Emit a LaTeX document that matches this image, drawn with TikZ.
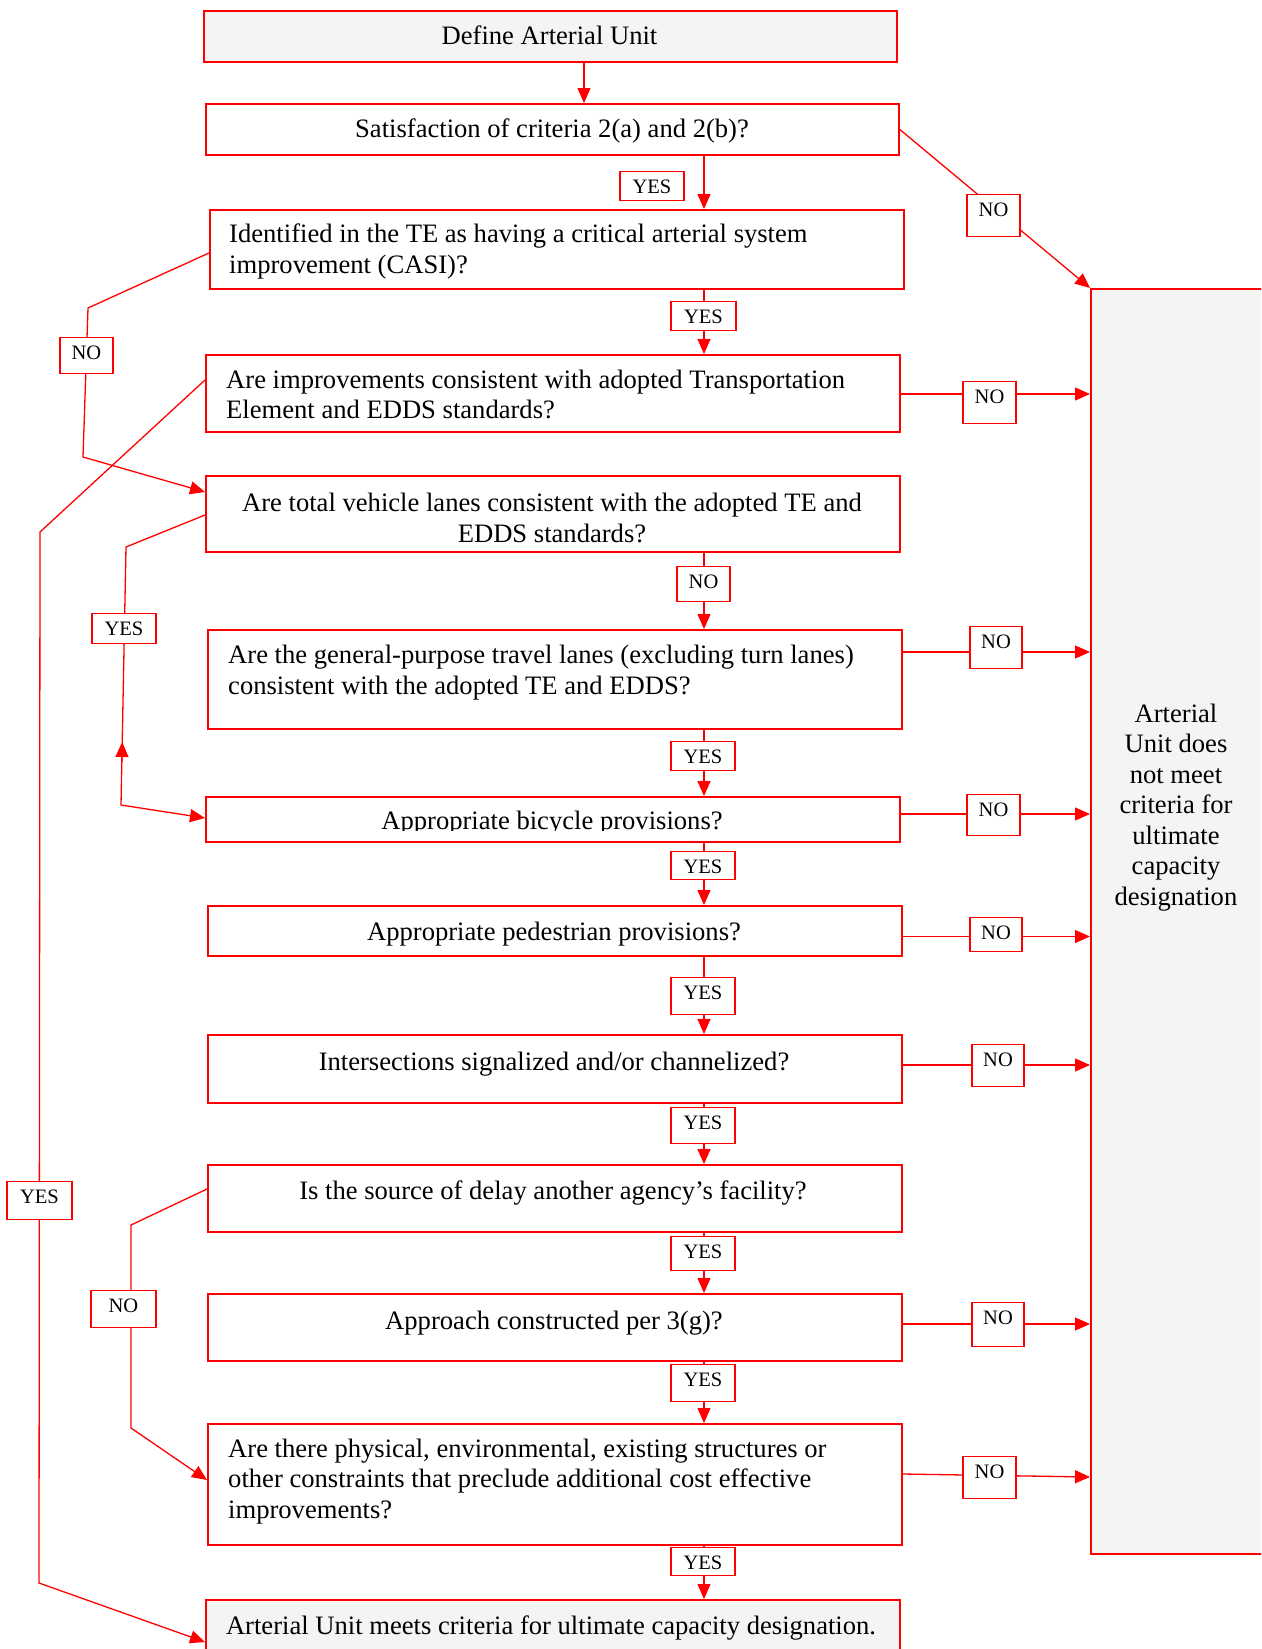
\documentclass[tikz,border=0pt]{standalone}
\usepackage{fontspec}
\setmainfont{Liberation Serif}
\usetikzlibrary{arrows.meta}
\definecolor{lr}{RGB}{255,0,0}
\definecolor{lg}{RGB}{244,244,244}
\tikzset{
  bx/.style={draw=lr, line width=1.6pt, inner sep=0pt, anchor=north west},
  gbx/.style={bx, fill=lg},
  conn/.style={draw=lr, line width=1.3pt, -{Triangle[length=15pt,width=13pt]}},
  plain/.style={draw=lr, line width=1.3pt},
  txt/.style={font=\fontsize{26.6}{31}\selectfont, inner sep=0pt, text=black},
  lab/.style={draw=lr, line width=1.4pt, fill=white, inner xsep=0pt, inner ysep=0pt,
    font=\fontsize{20.5}{24}\selectfont, text height=21.5pt, anchor=north}
}
\newcommand\lbl[6]{\node[lab, minimum width=#4pt, text depth=#5pt] (#1) at (#2,#3) {#6};}
\begin{document}
\begin{tikzpicture}[x=1pt,y=-1pt]
\useasboundingbox (0,0) rectangle (1261,1649);
\clip (0,0) rectangle (1261,1649);
\fill[white] (0,0) rectangle (1261,1649);

% boxes
\node[gbx, minimum width=693pt, minimum height=51pt] (b1) at (203,10) {};
\node[bx, minimum width=693pt, minimum height=51pt] (b2) at (205,103) {};
\node[bx, minimum width=694pt, minimum height=79pt] (b3) at (209,209) {};
\node[bx, minimum width=694pt, minimum height=77pt] (b4) at (205,354) {};
\node[bx, minimum width=694pt, minimum height=76pt] (b5) at (205,475) {};
\node[bx, minimum width=694pt, minimum height=99pt] (b6) at (207,629) {};
\node[bx, minimum width=694pt, minimum height=45pt] (b7) at (205,796) {};
\node[bx, minimum width=694pt, minimum height=50pt] (b8) at (207,905) {};
\node[bx, minimum width=694pt, minimum height=68pt] (b9) at (207,1034) {};
\node[bx, minimum width=694pt, minimum height=67pt] (b10) at (207,1164) {};
\node[bx, minimum width=694pt, minimum height=67pt] (b11) at (207,1293) {};
\node[bx, minimum width=694pt, minimum height=121pt] (b12) at (207,1423) {};
\node[gbx, minimum width=694pt, minimum height=66pt] (fin) at (205,1599) {};
\node[gbx, minimum width=190pt, minimum height=1265pt] (rb) at (1090,288) {};

% texts
\node[txt, anchor=base] (t1) at (549.5,44) {Define Arterial Unit};
\node[txt, anchor=base] (t2) at (552,137) {Satisfaction of criteria 2(a) and 2(b)?};
\node[txt, anchor=base west] (t3a) at (229,242) {Identified in the TE as having a critical arterial system};
\node[txt, anchor=base west] (t3b) at (229,273.5) {improvement (CASI)?};
\node[txt, anchor=base west] (t4a) at (226,388) {Are improvements consistent with adopted Transportation};
\node[txt, anchor=base west] (t4b) at (226,418.5) {Element and EDDS standards?};
\node[txt, anchor=base] (t5a) at (552,511) {Are total vehicle lanes consistent with the adopted TE and};
\node[txt, anchor=base] (t5b) at (552,542) {EDDS standards?};
\node[txt, anchor=base west] (t6a) at (228,663) {Are the general-purpose travel lanes (excluding turn lanes)};
\node[txt, anchor=base west] (t6b) at (228,694) {consistent with the adopted TE and EDDS?};
\begin{scope}
\clip (205,796) rectangle (899,830);
\node[txt, anchor=base] (t7) at (552,829) {Appropriate bicycle provisions?};
\end{scope}
\node[txt, anchor=base] (t8) at (554,940) {Appropriate pedestrian provisions?};
\node[txt, anchor=base] (t9) at (554,1070) {Intersections signalized and/or channelized?};
\node[txt, anchor=base] (t10) at (553,1199) {Is the source of delay another agency’s facility?};
\node[txt, anchor=base] (t11) at (554,1329) {Approach constructed per 3(g)?};
\node[txt, anchor=base west] (t12a) at (228,1457) {Are there physical, environmental, existing structures or};
\node[txt, anchor=base west] (t12b) at (228,1487.5) {other constraints that preclude additional cost effective};
\node[txt, anchor=base west] (t12c) at (228,1518) {improvements?};
\node[txt, anchor=base] (tf) at (551,1634) {Arterial Unit meets criteria for ultimate capacity designation.};
\node[txt, anchor=base] (r1) at (1176,722) {Arterial};
\node[txt, anchor=base] (r2) at (1176,752.5) {Unit does};
\node[txt, anchor=base] (r3) at (1176,783) {not meet};
\node[txt, anchor=base] (r4) at (1176,813.5) {criteria for};
\node[txt, anchor=base] (r5) at (1176,844) {ultimate};
\node[txt, anchor=base] (r6) at (1176,874.5) {capacity};
\node[txt, anchor=base] (r7) at (1176,905) {designation};

% connectors
\coordinate (cx) at (704,0);
\coordinate (dx) at (584,0);
\draw[conn] (b1.south -| dx) -- (b2.north -| dx);
\draw[conn] (b2.south -| cx) -- (b3.north -| cx);
\draw[conn] (b3.south -| cx) -- (b4.north -| cx);
\draw[conn] (b5.south -| cx) -- (b6.north -| cx);
\draw[conn] (b6.south -| cx) -- (b7.north -| cx);
\draw[conn] (b7.south -| cx) -- (b8.north -| cx);
\draw[conn] (b8.south -| cx) -- (b9.north -| cx);
\draw[conn] (b9.south -| cx) -- (b10.north -| cx);
\draw[conn] (b10.south -| cx) -- (b11.north -| cx);
\draw[conn] (b11.south -| cx) -- (b12.north -| cx);
\draw[conn] (b12.south -| cx) -- (fin.north -| cx);

\draw[conn] (b2.east) -- (rb.north west);
\draw[conn] (b4.east |- 0,394) -- (rb.west |- 0,394);
\draw[conn] (b6.east |- 0,652) -- (rb.west |- 0,652);
\draw[conn] (b7.east |- 0,814) -- (rb.west |- 0,814);
\draw[conn] (b8.east |- 0,936.5) -- (rb.west |- 0,936.5);
\draw[conn] (b9.east |- 0,1065) -- (rb.west |- 0,1065);
\draw[conn] (b11.east |- 0,1324) -- (rb.west |- 0,1324);
\draw[conn] (b12.east |- 0,1474) -- (rb.west |- 0,1477);

\draw[conn] (b3.west |- 0,253) -- (88,308) -- (83,457) -- (b5.west |- 0,492);
\draw[conn] (b4.west |- 0,380) -- (40,532) -- (39,1583) -- (fin.west |- 0,1642);
\draw[conn] (b5.west |- 0,515) -- (126,547) -- (121,805) -- (b7.west |- 0,818);
\draw[conn] (121.9,762) -- (122.2,742);
\draw[conn] (b10.west |- 0,1189) -- (131,1225) -- (131,1428) -- (b12.west |- 0,1480);

% labels
\lbl{l1}{652}{171}{64}{7.5}{YES}
\lbl{l2}{993.5}{194}{53}{20.5}{NO}
\lbl{l3}{703.5}{301}{65}{7.5}{YES}
\lbl{l4}{86.5}{337}{53}{14.5}{NO}
\lbl{l5}{989.5}{381}{53}{20.5}{NO}
\lbl{l6}{703.5}{566}{53}{13.5}{NO}
\lbl{l7}{124}{613}{64}{8.5}{YES}
\lbl{l8}{996}{626}{52}{20.5}{NO}
\lbl{l9}{703}{741}{64}{7.5}{YES}
\lbl{l10}{993.5}{794}{53}{19.5}{NO}
\lbl{l11}{703}{851}{64}{6.5}{YES}
\lbl{l12}{996}{917}{52}{12.5}{NO}
\lbl{l13}{703}{977}{64}{15.5}{YES}
\lbl{l14}{998}{1044}{52}{20.5}{NO}
\lbl{l15}{703}{1107}{64}{14.5}{YES}
\lbl{l16}{39.5}{1181}{65}{16.5}{YES}
\lbl{l17}{703}{1236}{64}{12.5}{YES}
\lbl{l18}{123.5}{1290}{65}{15.5}{NO}
\lbl{l19}{998}{1302}{52}{22.5}{NO}
\lbl{l20}{703}{1364}{64}{15.5}{YES}
\lbl{l21}{989.5}{1456}{53}{20.5}{NO}
\lbl{l22}{703}{1547}{64}{6.5}{YES}
\end{tikzpicture}
\end{document}
